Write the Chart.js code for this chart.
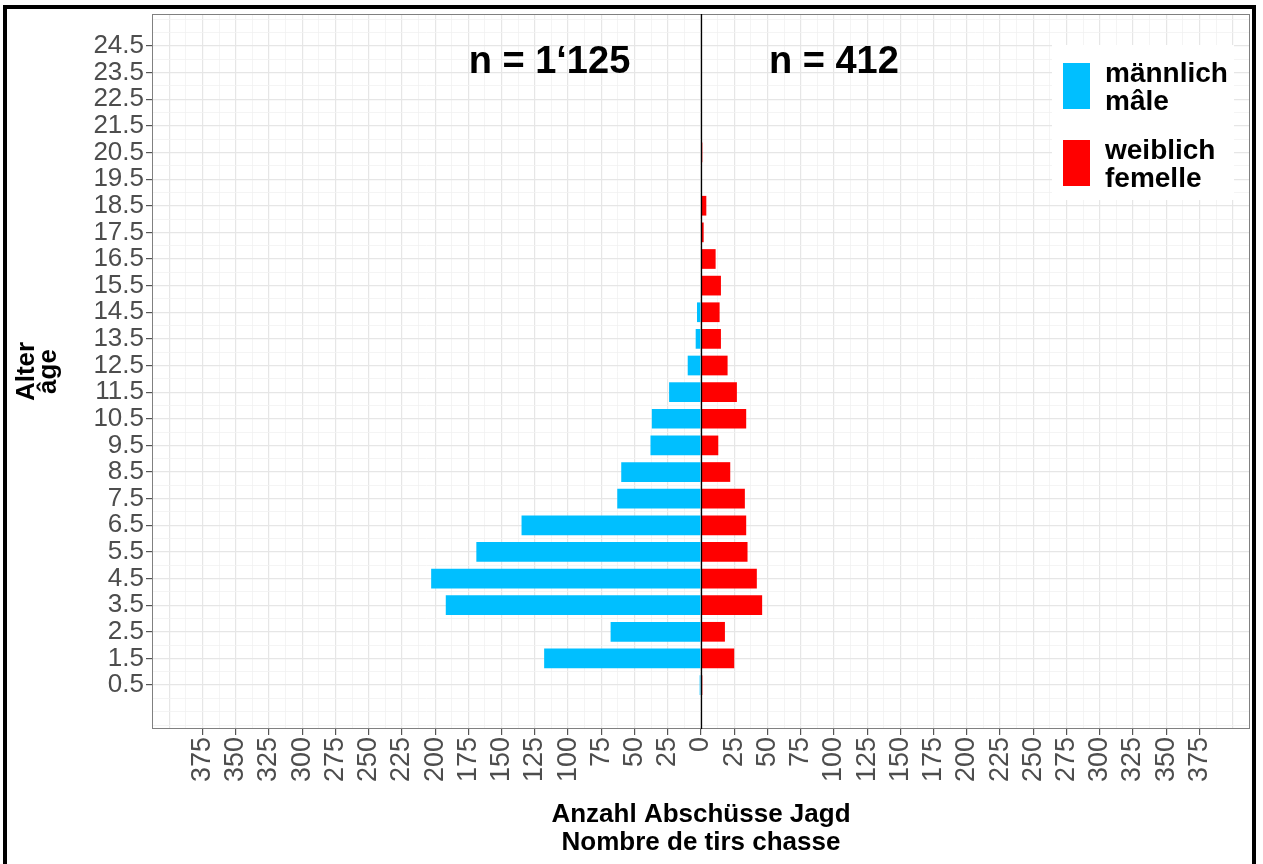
<!DOCTYPE html>
<html>
<head>
<meta charset="utf-8">
<script src="https://cdn.jsdelivr.net/npm/chart.js@4.4.1/dist/chart.umd.min.js"></script>
<style>
    html, body { margin: 0; padding: 0; background: #fff; }
    #wrap { position: relative; width: 1263px; height: 864px; overflow: hidden; }
    #frame { position: absolute; left: 3px; top: 5px; width: 1245px; height: 900px; border: 4px solid #000; pointer-events: none; }
</style>
</head>
<body>
<div id="wrap">
    <canvas id="ageChart"></canvas>
    <div id="frame"></div>
</div>
<script>
// ages (Alter / âge) of the bars
const ages = [0.5, 1.5, 2.5, 3.5, 4.5, 5.5, 6.5, 7.5, 8.5, 9.5, 10.5,
              11.5, 12.5, 13.5, 14.5, 15.5, 16.5, 17.5, 18.5, 19.5, 20.5];
// männlich / mâle (drawn to the left)
const male = [1, 118, 68, 192, 203, 169, 135, 63, 60, 38, 37,
              24, 10, 4, 3, 0, 0, 0, 0, 0, 0];
// weiblich / femelle (drawn to the right)
const female = [1, 25, 18, 46, 42, 35, 34, 33, 22, 13, 34,
                27, 20, 15, 14, 15, 11, 2, 4, 0, 1];

const yTickLabels = ['0.5', '1.5', '2.5', '3.5', '4.5', '5.5', '6.5', '7.5', '8.5', '9.5',
                     '10.5', '11.5', '12.5', '13.5', '14.5', '15.5', '16.5', '17.5', '18.5',
                     '19.5', '20.5', '21.5', '22.5', '23.5', '24.5'];
const xTickValues = [-375, -350, -325, -300, -275, -250, -225, -200, -175, -150, -125, -100,
                     -75, -50, -25, 0, 25, 50, 75, 100, 125, 150, 175, 200, 225, 250, 275,
                     300, 325, 350, 375];
const seriesNames = [['männlich', 'mâle'], ['weiblich', 'femelle']];
const nLabels = ['n = 1‘125', 'n = 412'];

const FONT = '"Liberation Sans", Arial, sans-serif';

document.addEventListener('DOMContentLoaded', () => {
    Chart.defaults.font.family = FONT;

    const overlay = {
        id: 'overlay',
        beforeDatasetsDraw(chart) {
            const {ctx, chartArea: a} = chart;
            ctx.save();
            ctx.strokeStyle = '#808080';
            ctx.lineWidth = 1;
            ctx.strokeRect(a.left + 0.5, a.top + 0.5, a.right - a.left - 1, a.bottom - a.top - 1);
            ctx.restore();
        },
        afterDatasetsDraw(chart) {
            const {ctx, chartArea: a, scales: {x, y}} = chart;
            ctx.save();
            // zero line
            const x0 = Math.round(x.getPixelForValue(0)) + 0.5;
            ctx.strokeStyle = '#000';
            ctx.lineWidth = 1.3;
            ctx.beginPath();
            ctx.moveTo(x0, a.top);
            ctx.lineTo(x0, a.bottom);
            ctx.stroke();

            // sample sizes
            ctx.fillStyle = '#000';
            ctx.font = 'bold 38px ' + FONT;
            ctx.textAlign = 'center';
            ctx.textBaseline = 'alphabetic';
            ctx.fillText(nLabels[0], x.getPixelForValue(-114), y.getPixelForValue(23.5));
            ctx.fillText(nLabels[1], x.getPixelForValue(100), y.getPixelForValue(23.5));

            // legend
            ctx.fillStyle = '#fff';
            ctx.fillRect(1052, 45, 182, 155);
            chart.data.datasets.forEach((ds, i) => {
                const top = 63 + i * 77;
                ctx.fillStyle = ds.backgroundColor;
                ctx.fillRect(1063, top, 27, 46);
                ctx.fillStyle = '#000';
                ctx.font = 'bold 28px ' + FONT;
                ctx.textAlign = 'left';
                ctx.fillText(seriesNames[i][0], 1105, top + 19);
                ctx.fillText(seriesNames[i][1], 1105, top + 47);
            });
            ctx.restore();
        }
    };

    const isMajorY = c => c.tick && yTickLabels.includes(String(c.tick.value));

    const ctx = document.getElementById('ageChart').getContext('2d');
    new Chart(ctx, {
        type: 'bar',
        data: {
            datasets: [{
                label: seriesNames[0].join(' '),
                data: ages.map((a, i) => ({x: -male[i], y: a})),
                backgroundColor: '#00BFFF',
                borderWidth: 0
            }, {
                label: seriesNames[1].join(' '),
                data: ages.map((a, i) => ({x: female[i], y: a})),
                backgroundColor: '#FF0000',
                borderWidth: 0
            }]
        },
        options: {
            indexAxis: 'y',
            responsive: true,
            maintainAspectRatio: false,
            animation: false,
            layout: {padding: {left: 8, top: 14, right: 13, bottom: 8}},
            datasets: {
                // grid ticks sit every 0.5 years, so the slot is half an age step
                bar: {grouped: false, barPercentage: 1.48, categoryPercentage: 1}
            },
            plugins: {
                legend: {display: false},
                tooltip: {enabled: false}
            },
            scales: {
                x: {
                    type: 'linear',
                    min: -413,
                    max: 413,
                    afterBuildTicks: scale => {
                        const t = [];
                        for (let v = -412.5; v <= 412.5; v += 12.5) t.push({value: v});
                        scale.ticks = t;
                    },
                    afterFit: scale => {
                        scale.height = 864 - 8 - 729;
                        scale.paddingLeft = 0;
                        scale.paddingRight = 0;
                    },
                    border: {display: false},
                    grid: {
                        color: c => (c.tick && c.tick.value % 25 === 0) ? '#e6e6e6' : '#f1f1f1',
                        lineWidth: c => (c.tick && c.tick.value % 25 === 0) ? 1.2 : 0.8,
                        tickColor: c => (c.tick && xTickValues.includes(c.tick.value)) ? '#555' : 'rgba(0,0,0,0)',
                        tickLength: 6
                    },
                    ticks: {
                        autoSkip: false,
                        minRotation: 90,
                        maxRotation: 90,
                        padding: 2,
                        color: '#4d4d4d',
                        font: {size: 27},
                        callback: value => xTickValues.includes(value) ? String(Math.abs(value)) : ''
                    },
                    title: {
                        display: true,
                        text: ['Anzahl Abschüsse Jagd', 'Nombre de tirs chasse'],
                        color: '#000',
                        font: {size: 26, weight: 'bold', lineHeight: 1.05},
                        padding: 0
                    }
                },
                y: {
                    type: 'linear',
                    min: -1.15,
                    max: 25.7,
                    offset: false,
                    afterBuildTicks: scale => {
                        const t = [];
                        for (let v = -1; v <= 25.5; v += 0.5) t.push({value: v});
                        scale.ticks = t;
                    },
                    afterFit: scale => {
                        scale.width = 152 - 8;
                        scale.paddingTop = 0;
                        scale.paddingBottom = 0;
                    },
                    border: {display: false},
                    grid: {
                        offset: false,
                        color: c => isMajorY(c) ? '#e6e6e6' : '#f1f1f1',
                        lineWidth: c => isMajorY(c) ? 1.2 : 0.8,
                        tickColor: c => isMajorY(c) ? '#555' : 'rgba(0,0,0,0)',
                        tickLength: 6
                    },
                    ticks: {
                        autoSkip: false,
                        padding: 2,
                        color: '#4d4d4d',
                        font: {size: 26, lineHeight: 1},
                        callback: value => yTickLabels.includes(String(value)) ? String(value) : ''
                    },
                    title: {
                        display: true,
                        text: ['Alter', 'âge'],
                        color: '#000',
                        font: {size: 26, weight: 'bold', lineHeight: 0.88},
                        padding: {top: 7, bottom: 0}
                    }
                }
            }
        },
        plugins: [overlay]
    });
});
</script>
</body>
</html>
